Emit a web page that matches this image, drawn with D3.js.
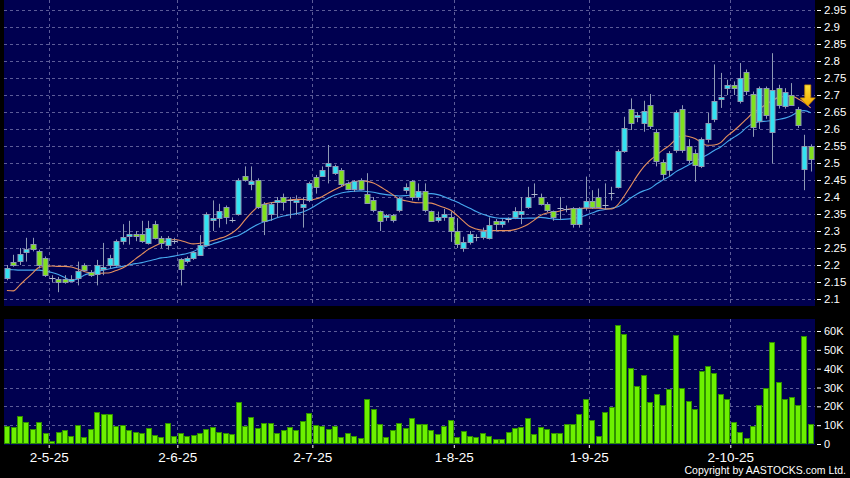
<!DOCTYPE html>
<html lang="en">
<head>
<meta charset="UTF-8">
<title>AASTOCKS chart</title>
<script src="https://d3js.org/d3.v7.min.js"></script>
<style>
  body { margin: 0; background: #000; }
  svg text { font-family: "Liberation Sans", Arial, sans-serif; fill: #fff; }
</style>
</head>
<body>
<svg id="chart" width="850" height="478"></svg>
<script>
// daily candles, 23-4-25 .. 22-10-25
const opens = [2.16,2.21,2.21,2.237,2.262,2.24,2.22,2.16,2.16,2.16,
 2.155,2.16,2.20,2.18,2.175,2.19,2.20,2.20,2.27,2.283,
 2.29,2.29,2.265,2.32,2.28,2.26,2.27,2.218,2.21,2.22,
 2.232,2.26,2.33,2.34,2.37,2.332,2.35,2.462,2.44,2.45,
 2.38,2.35,2.383,2.40,2.39,2.385,2.37,2.39,2.46,2.462,
 2.49,2.47,2.48,2.44,2.423,2.45,2.41,2.39,2.36,2.34,
 2.347,2.36,2.42,2.448,2.40,2.418,2.36,2.332,2.34,2.34,
 2.30,2.249,2.268,2.281,2.281,2.28,2.33,2.32,2.333,2.342,
 2.35,2.37,2.41,2.40,2.38,2.36,2.366,2.364,2.367,2.32,
 2.372,2.389,2.40,2.375,2.41,2.43,2.533,2.66,2.634,2.618,
 2.67,2.59,2.504,2.48,2.54,2.66,2.55,2.528,2.49,2.57,
 2.631,2.69,2.72,2.73,2.682,2.769,2.702,2.622,2.72,2.592,
 2.72,2.67,2.70,2.66,2.481,2.55];
const highs = [2.20,2.23,2.25,2.28,2.28,2.245,2.225,2.17,2.165,2.17,
 2.17,2.21,2.205,2.185,2.215,2.265,2.23,2.275,2.32,2.33,
 2.30,2.33,2.33,2.33,2.285,2.285,2.28,2.22,2.225,2.24,
 2.288,2.355,2.39,2.38,2.375,2.34,2.455,2.49,2.49,2.455,
 2.385,2.385,2.40,2.41,2.40,2.405,2.40,2.445,2.465,2.49,
 2.553,2.495,2.485,2.445,2.45,2.455,2.47,2.40,2.36,2.35,
 2.35,2.40,2.44,2.45,2.44,2.44,2.36,2.357,2.365,2.357,
 2.338,2.283,2.30,2.29,2.31,2.34,2.335,2.335,2.34,2.37,
 2.40,2.43,2.44,2.41,2.385,2.36,2.40,2.375,2.37,2.37,
 2.46,2.42,2.425,2.44,2.43,2.54,2.636,2.69,2.65,2.683,
 2.703,2.60,2.51,2.535,2.655,2.67,2.57,2.54,2.575,2.647,
 2.79,2.765,2.745,2.74,2.794,2.775,2.71,2.725,2.725,2.823,
 2.73,2.72,2.735,2.665,2.583,2.555];
const lows = [2.155,2.195,2.20,2.21,2.24,2.19,2.165,2.15,2.12,2.145,
 2.15,2.14,2.18,2.165,2.14,2.17,2.19,2.195,2.26,2.26,
 2.27,2.265,2.26,2.275,2.25,2.245,2.262,2.14,2.205,2.215,
 2.23,2.255,2.30,2.31,2.32,2.325,2.345,2.445,2.42,2.365,
 2.288,2.33,2.34,2.36,2.337,2.347,2.31,2.385,2.41,2.46,
 2.44,2.465,2.43,2.42,2.415,2.42,2.38,2.355,2.30,2.33,
 2.325,2.355,2.41,2.39,2.39,2.355,2.33,2.325,2.33,2.268,
 2.25,2.239,2.26,2.27,2.275,2.275,2.30,2.31,2.325,2.335,
 2.32,2.365,2.40,2.375,2.355,2.33,2.332,2.355,2.31,2.31,
 2.36,2.365,2.37,2.362,2.39,2.425,2.53,2.597,2.62,2.592,
 2.60,2.49,2.45,2.46,2.53,2.53,2.50,2.445,2.485,2.56,
 2.62,2.662,2.70,2.70,2.675,2.70,2.577,2.60,2.63,2.499,
 2.66,2.66,2.67,2.603,2.42,2.475];
const closes = [2.19,2.20,2.232,2.247,2.248,2.20,2.17,2.162,2.15,2.15,
 2.16,2.182,2.185,2.17,2.20,2.195,2.22,2.27,2.283,2.29,
 2.283,2.268,2.31,2.28,2.265,2.28,2.272,2.19,2.22,2.239,
 2.26,2.35,2.337,2.36,2.34,2.333,2.45,2.45,2.448,2.37,
 2.33,2.38,2.39,2.385,2.39,2.39,2.38,2.44,2.432,2.48,
 2.50,2.49,2.44,2.423,2.448,2.425,2.383,2.362,2.332,2.347,
 2.332,2.396,2.43,2.40,2.418,2.362,2.332,2.34,2.35,2.298,
 2.262,2.268,2.291,2.283,2.30,2.318,2.32,2.33,2.335,2.36,
 2.36,2.40,2.41,2.38,2.362,2.342,2.367,2.365,2.32,2.367,
 2.389,2.372,2.372,2.377,2.412,2.535,2.602,2.618,2.641,2.654,
 2.607,2.504,2.468,2.53,2.651,2.538,2.509,2.494,2.57,2.618,
 2.683,2.695,2.73,2.72,2.75,2.712,2.604,2.72,2.64,2.715,
 2.67,2.71,2.67,2.612,2.55,2.511];
// volume in thousands of shares
const volumeK = [9.6,9.2,14.7,11.9,8.0,11.5,5.7,1.6,6.2,7.4,
 4.2,9.9,3.5,8.0,17.0,15.9,15.8,9.6,10.1,7.6,
 6.5,6.0,8.3,4.9,3.9,11.0,4.2,6.0,4.2,4.6,
 5.8,8.1,8.8,6.5,5.8,5.5,22.3,9.7,14.3,8.3,
 11.0,11.0,6.0,7.4,9.0,7.4,12.4,16.6,10.1,9.6,
 7.8,9.6,3.7,5.7,4.2,3.2,23.9,18.6,10.4,3.7,
 7.4,11.3,8.7,13.6,10.4,10.4,7.3,5.3,9.7,12.6,
 3.7,7.1,4.2,3.5,6.0,4.2,2.7,2.5,6.2,8.3,
 9.2,13.8,5.1,8.8,7.8,5.7,5.7,10.4,10.6,16.1,
 23.7,12.6,4.2,17.2,19.5,63.0,58.2,40.2,31.0,36.6,
 22.5,26.4,20.7,29.0,57.7,29.7,23.0,18.6,38.8,41.4,
 37.9,26.4,23.7,11.8,6.5,3.4,9.7,20.7,29.7,54.0,
 32.8,23.7,25.1,20.7,57.4,10.6];
// moving averages
const maShort = [2.125,2.124,2.141,2.159,2.176,2.193,2.196,2.197,2.196,2.196,
 2.194,2.188,2.181,2.177,2.175,2.176,2.177,2.184,2.191,2.203,
 2.218,2.232,2.246,2.256,2.265,2.271,2.275,2.272,2.266,2.262,
 2.264,2.267,2.272,2.278,2.284,2.294,2.309,2.332,2.353,2.371,
 2.379,2.383,2.385,2.388,2.392,2.393,2.393,2.391,2.394,2.401,
 2.412,2.422,2.431,2.44,2.445,2.448,2.446,2.441,2.431,2.419,
 2.407,2.394,2.389,2.385,2.383,2.383,2.382,2.376,2.369,2.361,
 2.346,2.329,2.313,2.306,2.302,2.301,2.301,2.301,2.301,2.304,
 2.31,2.319,2.332,2.346,2.353,2.355,2.359,2.363,2.365,2.366,
 2.367,2.367,2.367,2.365,2.365,2.377,2.403,2.432,2.462,2.488,
 2.508,2.523,2.538,2.551,2.569,2.581,2.578,2.572,2.56,2.552,
 2.553,2.56,2.579,2.594,2.611,2.629,2.647,2.659,2.672,2.683,
 2.693,2.696,2.697,2.689,2.678,2.662];
const maLong = [2.187,2.186,2.185,2.185,2.185,2.185,2.182,2.178,2.172,2.163,
 2.155,2.159,2.17,2.176,2.181,2.185,2.189,2.193,2.196,2.2,
 2.204,2.207,2.212,2.216,2.221,2.223,2.226,2.23,2.234,2.24,
 2.249,2.255,2.262,2.268,2.275,2.281,2.287,2.297,2.309,2.319,
 2.327,2.332,2.339,2.344,2.348,2.351,2.356,2.364,2.375,2.387,
 2.397,2.406,2.412,2.415,2.417,2.418,2.416,2.414,2.41,2.407,
 2.405,2.403,2.404,2.406,2.408,2.41,2.41,2.407,2.401,2.393,
 2.385,2.376,2.367,2.357,2.349,2.343,2.339,2.337,2.337,2.337,
 2.337,2.338,2.338,2.34,2.338,2.335,2.334,2.335,2.337,2.34,
 2.346,2.353,2.36,2.363,2.367,2.371,2.382,2.397,2.409,2.418,
 2.425,2.438,2.45,2.46,2.474,2.484,2.494,2.505,2.515,2.525,
 2.537,2.547,2.562,2.575,2.587,2.604,2.616,2.621,2.623,2.625,
 2.628,2.632,2.639,2.65,2.654,2.648];

const dateIdx = [6, 26, 47, 69, 90, 112];
const dateLabels = ["2-5-25", "2-6-25", "2-7-25", "1-8-25", "1-9-25", "2-10-25"];
const priceTicks = [2.1,2.15,2.2,2.25,2.3,2.35,2.4,2.45,2.5,2.55,2.6,2.65,2.7,2.75,2.8,2.85,2.9,2.95];
const volTicks = [0, 10, 20, 30, 40, 50, 60];
const volLabels = ["0", "10K", "20K", "30K", "40K", "50K", "60K"];
const signalIdx = 124, signalPrice = 2.668;

const N = closes.length;
const svg = d3.select('#chart');
const L = 4, R = 815;
const pTop = 0, pBot = 306, vTop = 319, vBot = 444;

const x = d3.scaleBand().domain(d3.range(N)).range([3.7, 813.9]).paddingInner(0.22).paddingOuter(0.11);
const xv = d3.scaleBand().domain(d3.range(N)).range([3.7, 813.9]).paddingInner(0.12).paddingOuter(0.06);
const xEdge = d3.scaleLinear().domain([0, N]).range([3.7, 813.9]);
const cx = i => x(i) + x.bandwidth() / 2;
const y = d3.scaleLinear().domain([2.1, 2.95]).range([299, 10]);
const yv = d3.scaleLinear().domain([0, 60]).range([vBot, 331]);

svg.append('rect').attr('width', 850).attr('height', 478).attr('fill', '#000');
svg.append('rect').attr('x', L).attr('y', pTop).attr('width', R - L).attr('height', pBot - pTop).attr('fill', '#000050');
svg.append('rect').attr('x', L).attr('y', vTop).attr('width', R - L).attr('height', vBot - vTop + 1).attr('fill', '#000050');

const gridColor = '#5c5c98';
// horizontal grid
svg.append('g').selectAll('line').data(priceTicks).enter().append('line')
    .attr('x1', L).attr('x2', R)
    .attr('y1', d => Math.round(y(d)) + 0.5).attr('y2', d => Math.round(y(d)) + 0.5)
    .attr('stroke', gridColor).attr('stroke-dasharray', '3,3');
svg.append('g').selectAll('line').data(volTicks.slice(1)).enter().append('line')
    .attr('x1', L).attr('x2', R)
    .attr('y1', d => Math.round(yv(d)) + 0.5).attr('y2', d => Math.round(yv(d)) + 0.5)
    .attr('stroke', gridColor).attr('stroke-dasharray', '3,3');
// vertical grid
const vg = svg.append('g');
dateIdx.forEach(i => {
    const gx = Math.round(xEdge(i + 1)) + 0.5;
    vg.append('line').attr('x1', gx).attr('x2', gx).attr('y1', pTop).attr('y2', pBot)
        .attr('stroke', gridColor).attr('stroke-dasharray', '3,3');
    vg.append('line').attr('x1', gx).attr('x2', gx).attr('y1', vTop).attr('y2', vBot)
        .attr('stroke', gridColor).attr('stroke-dasharray', '3,3');
});

// volume bars
svg.append('g').selectAll('rect').data(volumeK).enter().append('rect')
    .attr('x', (d, i) => Math.round(xv(i)) + 0.5)
    .attr('y', d => Math.round(yv(d)) + 0.5)
    .attr('width', 5)
    .attr('height', d => Math.max(1, vBot - Math.round(yv(d)) - 1))
    .attr('fill', '#6cf000')
    .attr('stroke', '#2f8f00');

// moving averages
const lineGen = d3.line().x((d, i) => cx(i)).y(d => y(d)).curve(d3.curveMonotoneX);
svg.append('path').datum(maLong).attr('d', lineGen)
    .attr('fill', 'none').attr('stroke', '#46a8ee').attr('stroke-width', 1.1);
svg.append('path').datum(maShort).attr('d', lineGen)
    .attr('fill', 'none').attr('stroke', '#e6905e').attr('stroke-width', 1.1);

// candles
const candles = d3.range(N).map(i => ({ i, o: opens[i], h: highs[i], l: lows[i], c: closes[i] }));
const cg = svg.append('g');
cg.selectAll('.wick').data(candles).enter().append('line')
    .attr('class', 'wick')
    .attr('x1', d => Math.round(cx(d.i)) + 0.5).attr('x2', d => Math.round(cx(d.i)) + 0.5)
    .attr('y1', d => y(d.h)).attr('y2', d => y(d.l))
    .attr('stroke', '#8e9ab4');
cg.selectAll('.body').data(candles.filter(d => Math.abs(d.c - d.o) >= 0.004)).enter().append('rect')
    .attr('class', 'body')
    .attr('x', d => Math.round(cx(d.i)) - 2)
    .attr('y', d => Math.round(y(Math.max(d.o, d.c))) + 0.5)
    .attr('width', 5)
    .attr('height', d => Math.max(2, Math.round(Math.abs(y(d.o) - y(d.c)))))
    .attr('fill', d => d.c > d.o ? '#32e2f2' : '#80e11e')
    .attr('stroke', '#8e9ab4');
cg.selectAll('.doji').data(candles.filter(d => Math.abs(d.c - d.o) < 0.004)).enter().append('line')
    .attr('class', 'doji')
    .attr('x1', d => Math.round(cx(d.i)) - 2.5).attr('x2', d => Math.round(cx(d.i)) + 3.5)
    .attr('y1', d => Math.round(y(d.c)) + 0.5).attr('y2', d => Math.round(y(d.c)) + 0.5)
    .attr('stroke', '#b0b8cc');

// signal arrow
const ax = cx(signalIdx) + 3.5, ay = y(signalPrice);
const grad = svg.append('defs').append('linearGradient').attr('id', 'arrowGrad')
    .attr('x1', 0).attr('y1', 0).attr('x2', 0).attr('y2', 1);
grad.append('stop').attr('offset', '0%').attr('stop-color', '#ffe23a');
grad.append('stop').attr('offset', '100%').attr('stop-color', '#f2a800');
svg.append('path')
    .attr('d', `M${ax - 3},${ay - 21} L${ax + 3},${ay - 21} L${ax + 3},${ay - 8} L${ax + 7.5},${ay - 8} L${ax},${ay} L${ax - 7.5},${ay - 8} L${ax - 3},${ay - 8} Z`)
    .attr('fill', 'url(#arrowGrad)').attr('stroke', '#c98a00').attr('stroke-width', 0.8);

// right axes
const pAxis = svg.append('g').attr('transform', `translate(${R + 2},0)`)
    .call(d3.axisRight(y).tickValues(priceTicks).tickSize(4).tickPadding(3).tickFormat(d => String(+d.toFixed(2))));
pAxis.select('.domain').remove();
pAxis.selectAll('line').attr('stroke', '#fff');
pAxis.selectAll('text').attr('font-size', '11.5px').attr('fill', '#fff');

const vAxis = svg.append('g').attr('transform', `translate(${R + 2},0)`)
    .call(d3.axisRight(yv).tickValues(volTicks).tickSize(4).tickPadding(3).tickFormat((d, k) => volLabels[k]));
vAxis.select('.domain').remove();
vAxis.selectAll('line').attr('stroke', '#fff');
vAxis.selectAll('text').attr('font-size', '11px').attr('fill', '#fff');

// date axis
const xAxis = svg.append('g').attr('transform', `translate(0,${vBot + 1})`)
    .call(d3.axisBottom(xEdge).tickValues(dateIdx.map(i => i + 1)).tickSize(3).tickPadding(4)
        .tickFormat((d, k) => dateLabels[k]));
xAxis.select('.domain').remove();
xAxis.selectAll('line').attr('stroke', '#fff');
xAxis.selectAll('text').attr('font-size', '13.5px').attr('fill', '#fff');

svg.append('text').attr('x', 846).attr('y', 474).attr('text-anchor', 'end')
    .attr('font-size', '10.5px').text('Copyright by AASTOCKS.com Ltd.');
</script>
</body>
</html>
